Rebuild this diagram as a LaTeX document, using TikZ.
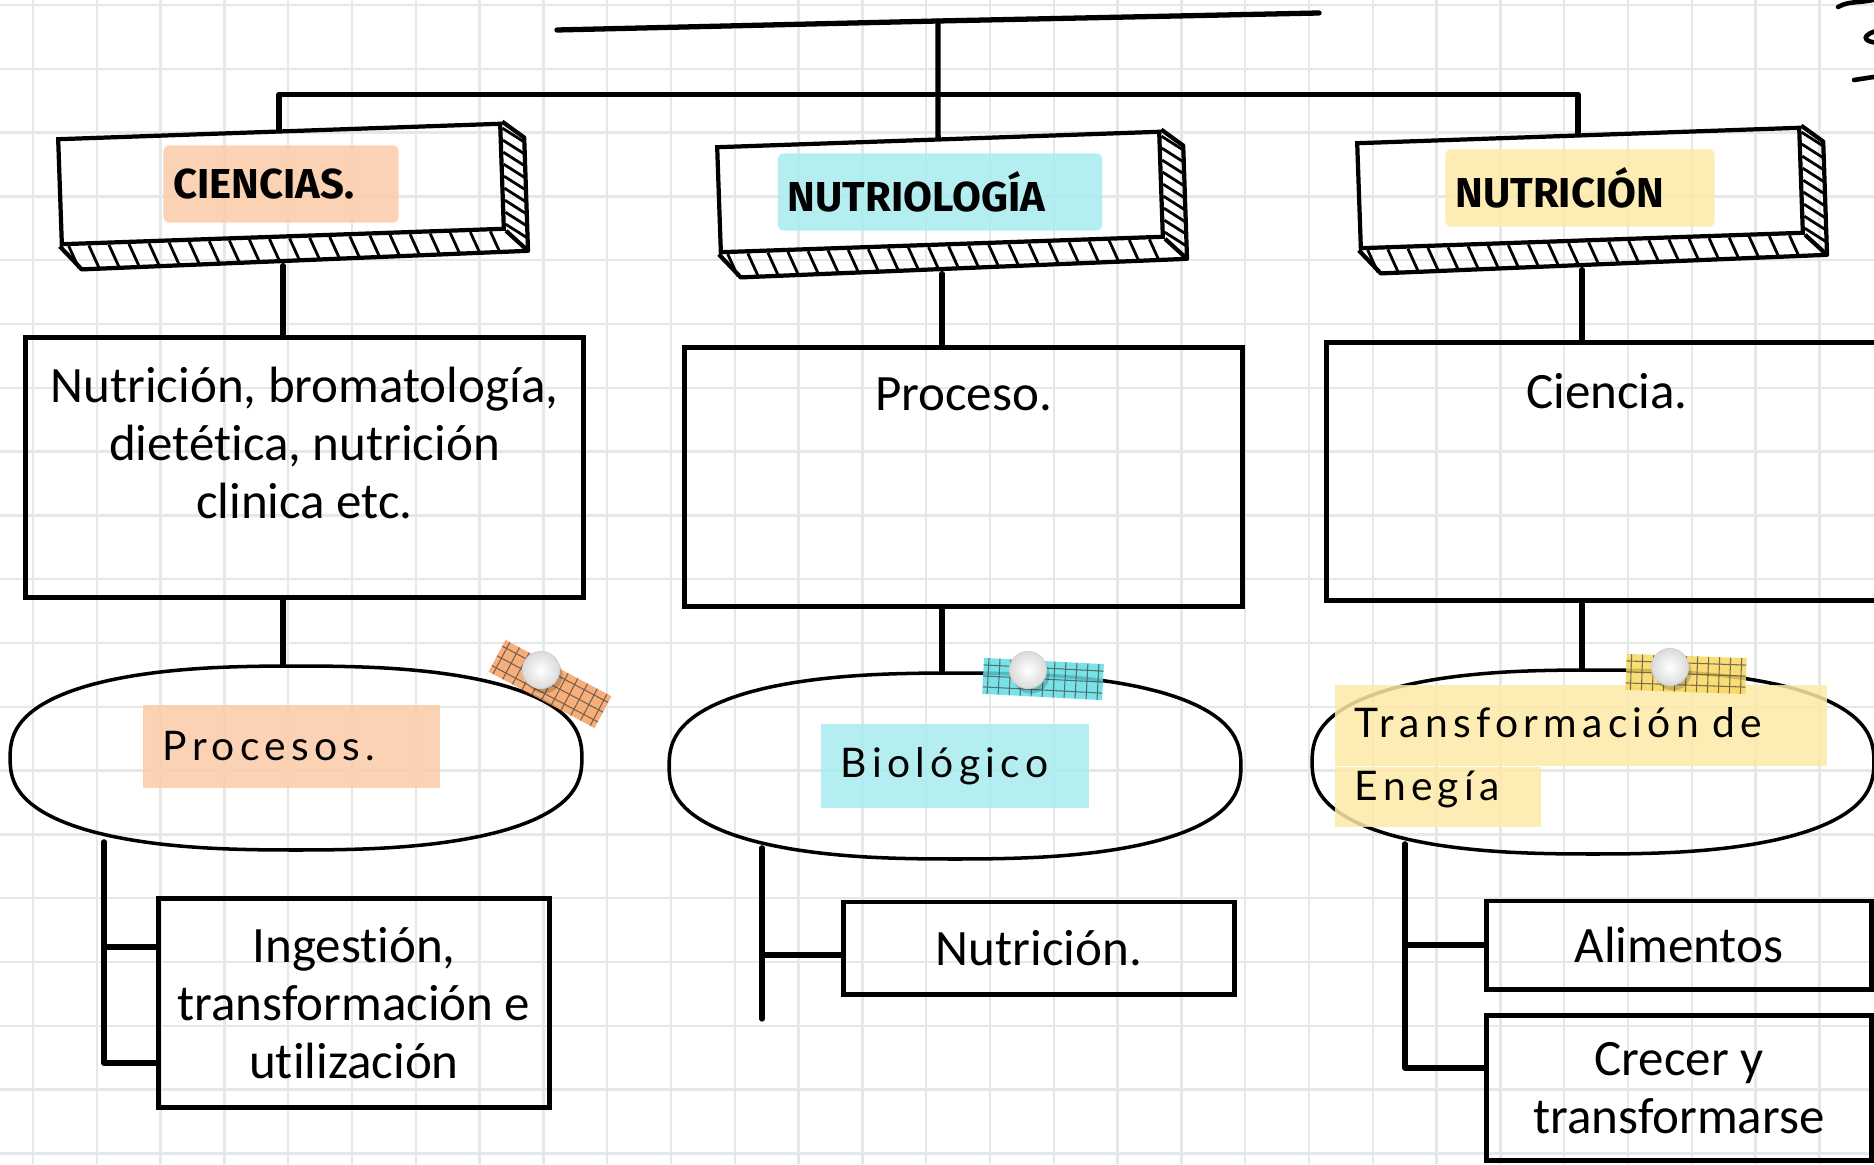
\documentclass[tikz,border=0pt]{standalone}
\usepackage{fontspec}
\setmainfont{Carlito}[Ligatures={NoCommon,NoContextual}, Contextuals=NoAlternate]
\newfontfamily\headfont{Fira Sans}
\newfontfamily\notefont{Lato}[LetterSpace=13, WordSpace=2.5]
\usetikzlibrary{calc,positioning}

\definecolor{gridgray}{HTML}{E4E8E8}
\definecolor{peach}{HTML}{FBCBA8}
\definecolor{aqua}{HTML}{A8ECEF}
\definecolor{butter}{HTML}{FDE9A6}
\definecolor{tapeorange}{HTML}{F6A062}
\definecolor{tapeaqua}{HTML}{62DDE4}
\definecolor{tapeyellow}{HTML}{F8D860}

% 3D title box: name, position, colour, label width, text
\newcommand{\headbox}[5]{%
  \node[headface] (#1) at (#2) {};
  \draw[headline] (#1.south west) -- ++(22,23) -- ($(#1.south east)+(22,20)$)
    -- ($(#1.north east)+(22,16)$) -- (#1.north east);
  \draw[headline] (#1.south east) -- ++(22,20);
  \foreach \t in {0.02,0.065,...,0.97}
    \draw[hatch] ($(#1.south west)!\t!(#1.south east)$) -- ++(10,22);
  \foreach \t in {0.06,0.17,...,0.95}
    \draw[hatch] ($(#1.north east)!\t!(#1.south east)$) -- ++(22,14);
  \node[headlabel, fill=#3, text width=#4] (#1-label) at (#1.center) {\mbox{#5}};
  \coordinate (#1-foot) at ($(#1.south)+(0,27)$);
}

% hand drawn oval: name, x, y, half width, half height
\newcommand{\blob}[5]{%
  \node[blobnode, minimum width={#4*0.02cm}, minimum height={#5*0.02cm}] (#1) at (#2,#3) {};
  \draw[blobline] plot[smooth cycle, domain=2.5:357.5, samples=72]
    ({#2+#4*cos(\x)/(abs(cos(\x))^2.5+abs(sin(\x))^2.5)^(0.4)},
     {#3+#5*sin(\x)/(abs(cos(\x))^2.5+abs(sin(\x))^2.5)^(0.4)});
}

% washi tape: position, angle, colour
\newcommand{\tape}[3]{%
  \begin{scope}[shift={(#1)}, rotate=#2]
    \fill[#3, fill opacity=0.85] (-60,-18) rectangle (60,18);
    \clip (-60,-18) rectangle (60,18);
    \draw[tapegrid] (-66,-24) grid (66,24);
  \end{scope}
}

\begin{document}
\begin{tikzpicture}[x=0.01cm, y=-0.01cm,
    gridline/.style={draw=gridgray, line width=0.7pt},
    link/.style={line width=1.5pt, line cap=round, line join=round},
    headface/.style={draw, line width=1.2pt, rotate=2, minimum width=4.42cm, minimum height=1.05cm, inner sep=0pt},
    headline/.style={line width=1.2pt, line join=round},
    hatch/.style={line width=0.8pt},
    headlabel/.style={rounded corners=0.05cm, fill opacity=0.85, text opacity=1, inner xsep=0.1cm, minimum height=0.77cm, align=left, font=\headfont\bfseries\fontsize{11.9}{14}\selectfont},
    defbox/.style={draw, line width=1.4pt, inner sep=0pt},
    deftext/.style={inner sep=0pt, align=center, font=\fontsize{14.5}{16.5}\selectfont},
    leafbox/.style={draw, line width=1.4pt, inner sep=0pt, align=center, font=\fontsize{14.5}{16.5}\selectfont},
    blobnode/.style={inner sep=0pt},
    blobline/.style={line width=1pt},
    notelabel/.style={fill opacity=0.85, text opacity=1, inner xsep=0.2cm, inner ysep=0.05cm, align=left, font=\notefont\fontsize{11.6}{14}\selectfont},
    tapegrid/.style={step=0.11cm, draw=black!75, line width=0.3pt, opacity=0.7},
    pinhead/.style={circle, minimum size=0.37cm, inner sep=0pt, draw=gray!35, line width=0.3pt, inner color=white, outer color=gray!28},
    pinshadow/.style={circle, minimum size=0.37cm, inner sep=0pt, fill=black, opacity=0.18},
    scribble/.style={line width=1.3pt, line cap=round}]

    \useasboundingbox (0,0) rectangle (1874,1164);
    \clip (0,0) rectangle (1874,1164);
    \fill[white] (0,0) rectangle (1874,1164);

    % squared paper
    \foreach \i in {0,...,29}
        \draw[gridline] ({33+63.8*\i},0) -- ({33+63.8*\i},1164);
    \foreach \j in {0,...,18}
        \draw[gridline] (0,{5+63.8*\j}) -- (1874,{5+63.8*\j});

    % title boxes
    \headbox{hl}{281,184}{peach}{2.15cm}{CIENCIAS.}
    \headbox{hm}{940,192}{aqua}{3.04cm}{NUTRIOLOGÍA}
    \headbox{hr}{1580,188}{butter}{2.49cm}{NUTRICIÓN}

    % definition boxes
    \node[defbox, minimum width=5.57cm, minimum height=2.59cm] (rl) at (304.5,467.5) {};
    \node[deftext, below=0.31cm of rl.north] (rl-text) {Nutrición, bromatología,\\ dietética, nutrición\\ clinica etc.};
    \node[defbox, minimum width=5.57cm, minimum height=2.58cm] (rm) at (963.5,477) {};
    \node[deftext, below=0.32cm of rm.north] (rm-text) {Proceso.};
    \node[defbox, minimum width=5.6cm, minimum height=2.57cm] (rr) at (1607,471.5) {};
    \node[deftext, below=0.32cm of rr.north] (rr-text) {Ciencia.};

    % ovals
    \blob{bl}{296}{758}{286}{92}
    \blob{bm}{955}{766}{286}{93}
    \blob{br}{1593}{762}{281}{92}

    % leaf boxes
    \node[leafbox, minimum width=3.9cm, minimum height=2.08cm] (il) at (354,1003) {Ingestión,\\ transformación e\\ utilización};
    \node[leafbox, minimum width=3.9cm, minimum height=0.92cm] (nm) at (1039,948) {Nutrición.};
    \node[leafbox, minimum width=3.84cm, minimum height=0.88cm] (ra) at (1679,945) {Alimentos};
    \node[leafbox, minimum width=3.84cm, minimum height=1.45cm] (rc) at (1679,1088) {Crecer y\\ transformarse};

    % top lines
    \coordinate (tl) at (557,30);
    \coordinate (tt) at (938,21);
    \coordinate (tr) at (1319,13);
    \draw[link] (tl) -- (tt) -- (tr);
    \draw[link] (tt) -- (hm.north);
    \draw[link] (hl.north) -- ++(0,-35) -| (hr.north);

    % title to definition to oval
    \draw[link] (hl-foot) -- (hl-foot |- rl.north);
    \draw[link] (hm-foot) -- (hm-foot |- rm.north);
    \draw[link] (hr-foot) -- (hr-foot |- rr.north);
    \draw[link] (rl.south -| hl-foot) -- (bl.north -| hl-foot);
    \draw[link] (rm.south -| hm-foot) -- (bm.north -| hm-foot);
    \draw[link] (rr.south -| hr-foot) -- (br.north -| hr-foot);

    % brackets
    \coordinate (kl) at (104,842);
    \coordinate (km) at (762,848);
    \coordinate (kr) at (1405,844);
    \draw[link] (kl) |- ([yshift=0.56cm]il.west);
    \draw[link] (kl) |- ([yshift=-0.6cm]il.west);
    \draw[link] (km) -- ++(0,171);
    \draw[link] (km) |- ([yshift=-0.07cm]nm.west);
    \draw[link] (kr) |- (ra.west);
    \draw[link] (kr) |- ([yshift=0.2cm]rc.west);

    % oval labels
    \node[notelabel, fill=peach, text width=2.57cm, minimum height=0.83cm] (bl-label) at (291.5,746.5) {\mbox{Procesos.}};
    \node[notelabel, fill=aqua, text width=2.28cm, minimum height=0.84cm] (bm-label) at (955,766) {\mbox{Biológico}};
    \node[notelabel, fill=butter, text width=4.52cm, text height=0.48cm, text depth=0.23cm, anchor=north west] (br-label) at (1334,684) {\mbox{Transformación de}};
    \node[notelabel, fill=butter, text width=1.66cm, text height=0.28cm, text depth=0.22cm, anchor=north west] (br-label2) at (br-label.south west) {\mbox{Enegía}};

    % tapes and pins
    \tape{550,684}{-28}{tapeorange}
    \tape{1043,679}{-3}{tapeaqua}
    \tape{1686,674}{-2}{tapeyellow}
    \node[pinshadow] at (544,675) {};
    \node[pinhead, shade] (pl) at (541,670) {};
    \node[pinshadow] at (1031,675) {};
    \node[pinhead, shade] (pm) at (1028,670) {};
    \node[pinshadow] at (1673,672) {};
    \node[pinhead, shade] (pr) at (1670,667) {};

    % cut off writing at the corner
    \draw[scribble] (1838,7) .. controls (1850,0) and (1862,4) .. (1880,-2);
    \draw[scribble] (1880,30) .. controls (1862,34) and (1860,42) .. (1880,43);
    \draw[scribble] (1854,80) -- (1880,76);
\end{tikzpicture}
\end{document}
